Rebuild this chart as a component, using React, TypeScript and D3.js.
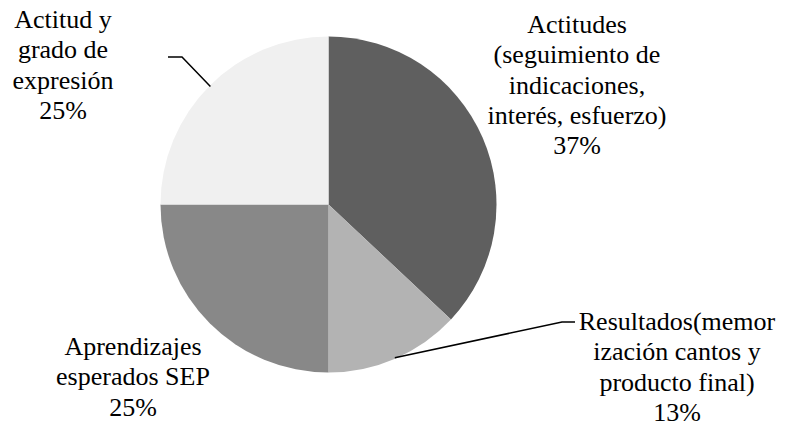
import React, { useEffect, useState } from "react";
import * as d3 from "d3";

const categories = [
  "Actitudes (seguimiento de indicaciones, interés, esfuerzo)",
  "Resultados(memorización cantos y producto final)",
  "Aprendizajes esperados SEP",
  "Actitud y grado de expresión",
];
const values = [37, 13, 25, 25];
const labelLines = [
  ["Actitudes", "(seguimiento de", "indicaciones,", "interés, esfuerzo)"],
  ["Resultados(memor", "ización cantos y", "producto final)"],
  ["Aprendizajes", "esperados SEP"],
  ["Actitud y", "grado de", "expresión"],
];
const colors = ["#5f5f5f", "#b3b3b3", "#888888", "#f0f0f0"];

const labelLayout = [
  { x: 577, y: 33, leader: null as null | [number, number][] },
  { x: 677, y: 330, leader: [[562, 322], [575, 322]] as [number, number][] },
  { x: 133, y: 355, leader: null },
  { x: 63, y: 28, leader: [[182, 57], [168, 57]] as [number, number][] },
];

const FONT = "Liberation Serif";

export default function App() {
  const [gen, setGen] = useState(0);
  useEffect(() => {
    const fonts = (document as any).fonts;
    if (fonts && fonts.load) {
      fonts.load(`26px "${FONT}"`).then(() => setGen((g) => g + 1)).catch(() => {});
    }
  }, []);

  const W = 788, H = 426;
  const cx = 328.5, cy = 204.5, r = 168;
  const pie = d3.pie<number>().sort(null).value((d) => d).startAngle(0).endAngle(2 * Math.PI);
  const arcs = pie(values);
  const arc = d3.arc<d3.PieArcDatum<number>>().innerRadius(0).outerRadius(r);
  const edge = d3.arc<d3.PieArcDatum<number>>().innerRadius(r - 1).outerRadius(r - 1);
  const lineH = 30.3;

  return (
    <div style={{ position: "absolute", left: 0, top: 0, fontFamily: FONT }}>
      <svg width={W} height={H} fontFamily={FONT} style={{ display: "block", background: "#fff", fontFamily: FONT }}>
        <style>{`text { font-family: "${FONT}"; }`}</style>
        <g transform={`translate(${cx},${cy})`}>
          {arcs.map((a, i) => (
            <path key={categories[i]} d={arc(a) || ""} fill={colors[i]} />
          ))}
        </g>
        {arcs.map((a, i) => {
          const L = labelLayout[i];
          if (!L.leader) return null;
          const [ex, ey] = edge.centroid(a);
          const pts: [number, number][] = [[cx + ex, cy + ey], ...L.leader];
          return <path key={"l" + i} d={d3.line()(pts) || ""} fill="none" stroke="#000" strokeWidth={1.5} />;
        })}
        <g key={"labels" + gen}>
          {labelLayout.map((L, i) =>
            [...labelLines[i], `${values[i]}%`].map((s, j) => (
              <text
                key={i + "-" + j}
                x={L.x}
                y={L.y + j * lineH}
                textAnchor="middle"
                fontFamily={FONT}
                fontSize={26}
              >
                {s}
              </text>
            ))
          )}
        </g>
      </svg>
    </div>
  );
}
